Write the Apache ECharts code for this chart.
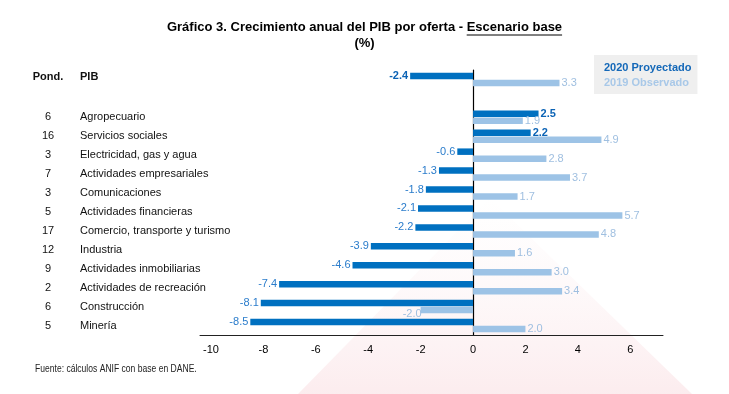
<!DOCTYPE html>
<html><head><meta charset="utf-8">
<script src="https://cdn.jsdelivr.net/npm/echarts@6/dist/echarts.min.js"></script>
<style>html,body{margin:0;padding:0;background:#fff}#c{width:729px;height:394px}</style>
</head><body><div id="c"></div>
<script>
const sectors = ['PIB', '', 'Agropecuario', 'Servicios sociales', 'Electricidad, gas y agua', 'Actividades empresariales', 'Comunicaciones', 'Actividades financieras', 'Comercio, transporte y turismo', 'Industria', 'Actividades inmobiliarias', 'Actividades de recreación', 'Construcción', 'Minería'];
const pond = ['', '', '6', '16', '3', '7', '3', '5', '17', '12', '9', '2', '6', '5'];
const proj2020 = [-2.4, null, 2.5, 2.2, -0.6, -1.3, -1.8, -2.1, -2.2, -3.9, -4.6, -7.4, -8.1, -8.5];
const obs2019 = [3.3, null, 1.9, 4.9, 2.8, 3.7, 1.7, 5.7, 4.8, 1.6, 3.0, 3.4, -2.0, 2.0];
const xTicks = [-10, -8, -6, -4, -2, 0, 2, 4, 6];

const FONT = "'Liberation Sans', Arial, sans-serif";
const DARK = '#0070c0', LIGHT = '#9dc3e6';
const W = 729;

// title layout (text measured so that the underlined part can be placed)
const titleA = 'Gráfico 3. Crecimiento anual del PIB por oferta - ';
const titleB = 'Escenario base';
const TFONT = 'bold 13px ' + FONT;
const ctx = document.createElement('canvas').getContext('2d');
ctx.font = TFONT;
const wA = ctx.measureText(titleA).width, wB = ctx.measureText(titleB).width;
const tx = (W - wA - wB) / 2;
const tTop = 21;

const chart = echarts.init(document.getElementById('c'), null, {renderer: 'canvas'});

const d2020 = proj2020.map((v, i) => v == null ? null : {
  value: v,
  label: {position: v < 0 ? 'left' : 'right', fontWeight: i < 4 ? 'bold' : 'normal', color: i < 4 ? '#0b63b5' : '#2a7ccb'}
});
const d2019 = obs2019.map((v, i) => v == null ? null : {
  value: v,
  label: v < 0 ? {position: 'left', offset: [3, 4]} : {position: 'right'}
});

chart.setOption({
  animation: false,
  backgroundColor: '#fff',
  textStyle: {fontFamily: FONT},
  graphic: [
    {type: 'polygon', z: -10, silent: true,
     shape: {points: [[490, 198], [692, 394], [298, 394]]},
     style: {fill: new echarts.graphic.LinearGradient(0, 0, 0, 1, [
       {offset: 0, color: 'rgba(250,228,231,0)'},
       {offset: 1, color: 'rgba(246,200,206,0.34)'}])}},
    {type: 'text', x: tx, y: tTop,
     style: {text: titleA, font: TFONT, fill: '#000', verticalAlign: 'top', align: 'left'}},
    {type: 'text', x: tx + wA, y: tTop,
     style: {text: titleB, font: TFONT, fill: '#000', verticalAlign: 'top', align: 'left'}},
    {type: 'line', silent: true,
     shape: {x1: tx + wA, y1: tTop + 14, x2: tx + wA + wB, y2: tTop + 14},
     style: {stroke: '#000', lineWidth: 1}},
    {type: 'text', left: 'center', top: 37,
     style: {text: '(%)', font: 'bold 13px ' + FONT, fill: '#000'}},
    {type: 'text', x: 35, y: 364, scaleX: 0.84,
     style: {text: 'Fuente: cálculos ANIF con base en DANE.', font: '10.2px ' + FONT, fill: '#222'}}
  ],
  legend: {
    orient: 'vertical', left: 594, top: 55,
    backgroundColor: '#efefef',
    padding: [7, 6, 6, 5], itemGap: 4,
    itemWidth: 0, itemHeight: 0,
    selectedMode: false,
    textStyle: {fontFamily: FONT, fontSize: 11, fontWeight: 'bold'},
    data: [
      {name: '2020 Proyectado', textStyle: {color: '#1468b8'}},
      {name: '2019 Observado', textStyle: {color: '#a8c8e8'}}
    ]
  },
  grid: {left: 200, right: 66, top: 70, bottom: 59, containLabel: false},
  xAxis: {
    type: 'value', min: -10.42, max: 7.25,
    splitLine: {show: false},
    axisTick: {show: false},
    axisLine: {show: true, lineStyle: {color: '#222', width: 1}},
    axisLabel: {customValues: xTicks, color: '#000', fontSize: 11, margin: 9, fontFamily: FONT}
  },
  yAxis: {
    type: 'category', inverse: true, data: sectors,
    axisTick: {show: false},
    axisLine: {show: true, onZero: true, lineStyle: {color: '#000', width: 1.2}},
    axisLabel: {
      align: 'left', margin: 167, fontSize: 11, color: '#111',
      formatter: (v, i) => i === 0 ? '{pb|Pond.}{nb|PIB}' : (v === '' ? '' : '{p|' + pond[i] + '}{n|' + v + '}'),
      rich: {
        p: {width: 30, align: 'center', fontSize: 11, fontFamily: FONT, color: '#111'},
        n: {padding: [0, 0, 0, 17], fontSize: 11, fontFamily: FONT, color: '#111'},
        pb: {width: 30, align: 'center', fontSize: 11, fontWeight: 'bold', fontFamily: FONT, color: '#111', padding: [0, 0, 4, 0]},
        nb: {padding: [0, 0, 4, 17], fontSize: 11, fontWeight: 'bold', fontFamily: FONT, color: '#111'}
      }
    }
  },
  series: [
    {name: '2020 Proyectado', type: 'bar', data: d2020, barWidth: 6.5, barGap: '8%',
     itemStyle: {color: DARK},
     label: {show: true, distance: 2, fontSize: 11, fontFamily: FONT, formatter: p => p.value.toFixed(1)}},
    {name: '2019 Observado', type: 'bar', data: d2019, barWidth: 6.5, barGap: '8%',
     itemStyle: {color: LIGHT},
     label: {show: true, distance: 2, fontSize: 11, fontFamily: FONT, color: '#9fbfe0', formatter: p => p.value.toFixed(1)}}
  ]
});
</script>
</body></html>
